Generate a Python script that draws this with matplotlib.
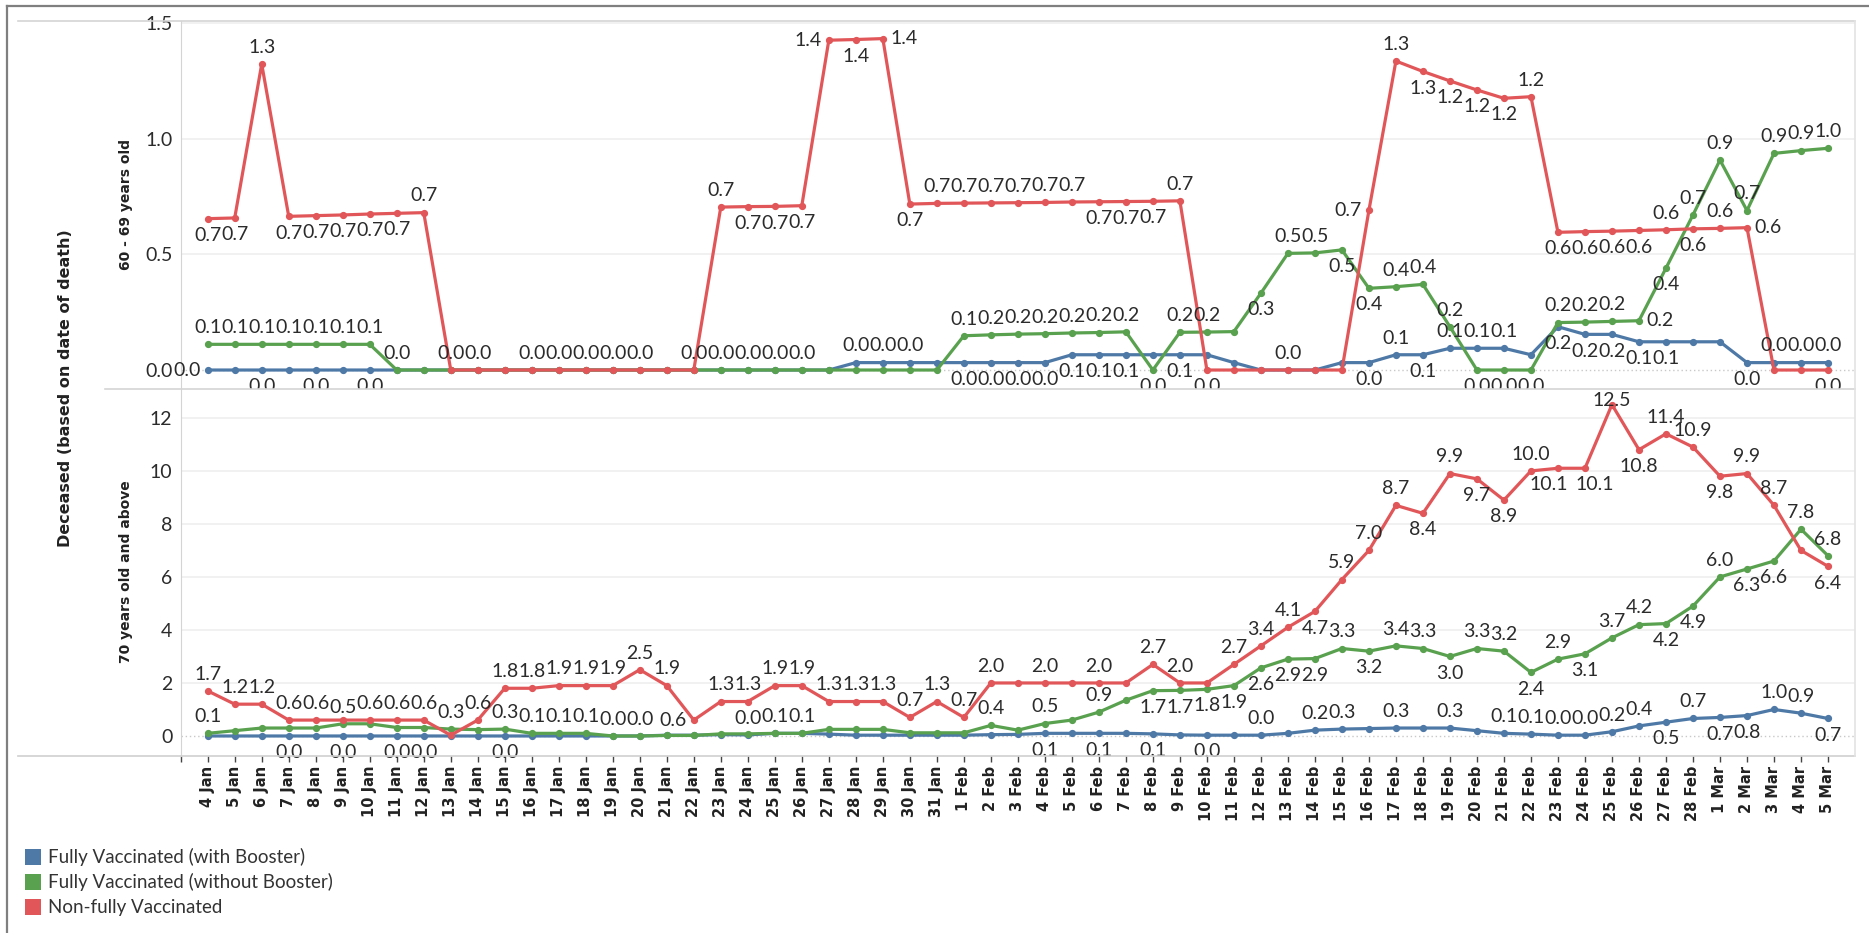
import matplotlib
matplotlib.use("Agg")
import matplotlib.pyplot as plt
from matplotlib.patches import Rectangle
from matplotlib.lines import Line2D

# Dates 4 Jan .. 5 Mar
dates = ([f"{d} Jan" for d in range(4, 32)] + [f"{d} Feb" for d in range(1, 29)]
         + [f"{d} Mar" for d in range(1, 6)])

series_names = ["Fully Vaccinated (with Booster)", "Fully Vaccinated (without Booster)",
                "Non-fully Vaccinated"]
series_colors = ["#4E79A7", "#59A14F", "#E15759"]

# 60 - 69 years old
blue_60 = ([0.0] * 24 + [0.032] * 8 + [0.066] * 6
           + [0.032, 0, 0, 0, 0.032, 0.032, 0.066, 0.066, 0.094, 0.094, 0.094, 0.066,
              0.187, 0.154, 0.154, 0.122, 0.122, 0.122, 0.122, 0.032, 0.032, 0.032, 0.032])
green_60 = ([0.111] * 7 + [0.0] * 21
            + [0.148, 0.152, 0.155, 0.157, 0.160, 0.162, 0.165, 0.0, 0.163, 0.164, 0.166,
               0.332, 0.504, 0.506, 0.519, 0.353, 0.360, 0.370, 0.187, 0.0, 0.0, 0.0,
               0.205, 0.207, 0.210, 0.213, 0.440, 0.670, 0.907, 0.689, 0.936, 0.948, 0.958])
red_60 = ([0.654, 0.657, 1.322, 0.664, 0.667, 0.670, 0.674, 0.677, 0.680] + [0.0] * 10
          + [0.704, 0.706, 0.707, 0.710, 1.425, 1.428, 1.432, 0.717, 0.720, 0.721, 0.722,
             0.723, 0.724, 0.726, 0.727, 0.728, 0.729, 0.731] + [0.0] * 6
          + [0.690, 1.335, 1.290, 1.249, 1.210, 1.174, 1.181, 0.595, 0.598, 0.600, 0.603,
             0.606, 0.610, 0.612, 0.615, 0.0, 0.0, 0.0])

# 70 years old and above
blue_70 = ([0.0] * 17
           + [0.03, 0.03, 0.05, 0.04, 0.1, 0.1, 0.07, 0.03, 0.03, 0.03,
              0.03, 0.03, 0.05, 0.06, 0.1, 0.1, 0.1, 0.1, 0.08, 0.04,
              0.03, 0.03, 0.03, 0.1, 0.22, 0.26, 0.28, 0.3, 0.3, 0.3,
              0.2, 0.1, 0.07, 0.03, 0.03, 0.16, 0.38, 0.52, 0.66, 0.7,
              0.77, 1.0, 0.86, 0.66])
green_70 = [0.1, 0.2, 0.3, 0.3, 0.3, 0.46, 0.46, 0.32, 0.32, 0.26,
            0.24, 0.26, 0.1, 0.1, 0.1, 0.0, 0.0, 0.02, 0.02, 0.08,
            0.08, 0.1, 0.1, 0.25, 0.25, 0.25, 0.12, 0.12, 0.12, 0.4,
            0.22, 0.47, 0.6, 0.9, 1.35, 1.71, 1.72, 1.76, 1.9, 2.57,
            2.9, 2.92, 3.3, 3.2, 3.4, 3.3, 3.0, 3.3, 3.2, 2.4,
            2.9, 3.1, 3.7, 4.2, 4.24, 4.9, 6.0, 6.3, 6.6, 7.8, 6.8]
red_70 = [1.7, 1.2, 1.2, 0.6, 0.6, 0.6, 0.6, 0.6, 0.6, 0.03,
          0.6, 1.8, 1.8, 1.9, 1.9, 1.9, 2.5, 1.9, 0.6, 1.3,
          1.3, 1.9, 1.9, 1.3, 1.3, 1.3, 0.7, 1.3, 0.7, 2.0,
          2.0, 2.0, 2.0, 2.0, 2.0, 2.7, 2.0, 2.0, 2.7, 3.4,
          4.1, 4.7, 5.9, 7.0, 8.7, 8.4, 9.9, 9.7, 8.9, 10.0,
          10.1, 10.1, 12.5, 10.8, 11.4, 10.9, 9.8, 9.9, 8.7, 7.0, 6.4]

# label placement per point: a above, b below, l left, r right, u just over point,
# p / q below shifted left / right, . none
lab_blue_60 = "l.b.b.b.." + "." * 10 + "aaaa.aaa." + "bbbbbbb.b" + "...a..babaaa.bbbbb..baaa"
lab_green_60 = "a" * 8 + "." * 20 + "a" * 7 + "baa.baabbaaabbbaaarbaaaaaa"
lab_red_60 = "bbabbbbba" + "aa.aaaaa.a" + "abbblbrbaaaaaabbba" + "b.....labbbbabbbbabar..b"
lab_blue_70 = "...b.b.bb." + ".b........" + "a........." + ".b.b.b.b.a" + ".aa.a.a.aa" + "aaaababbaab"
lab_green_70 = "a....a...a" + ".aaaaaa..." + ".aa......a" + ".a.a.bbbbb" + "bbabaabaab" + "abaabbabbaa"
lab_red_70 = "aaaaa.aaa." + "aaaaaaaala" + "aaaaaaaaaa" + ".a.a.aa.aa" + "abaaababba" + "pqubaabaa.b"

plt.rcParams['font.family'] = ['Lato', 'DejaVu Sans']
W, H = 1869, 933
fig = plt.figure(figsize=(W / 100, H / 100), dpi=100)

def fx(px):
    return px / W

def fy(py):
    return 1 - py / H

left, right = 180.7, 1855
ax1 = fig.add_axes([fx(left), fy(389), fx(right - left), fy(21) - fy(389)])
ax2 = fig.add_axes([fx(left), fy(756), fx(right - left), fy(389) - fy(756)])

text_col = "#2b2b2b"
offs = {"a": (0, 12), "b": (0, -12), "l": (-15, 0), "r": (15, 0), "u": (0, 3),
        "p": (-7, -12), "q": (7, -12)}

def draw_panel(ax, data, labels):
    for vals, col in zip(data, series_colors):
        ax.plot(range(len(vals)), vals, color=col, lw=2.3, marker="o", ms=4.2,
                solid_joinstyle="round", zorder=3)
    for vals, codes in zip(data, labels):
        for i, (v, c) in enumerate(zip(vals, codes)):
            if c == ".":
                continue
            dx, dy = offs[c]
            ax.annotate(f"{v:.1f}", (i, v), xytext=(dx, dy), textcoords="offset points",
                        ha="center", va="center", fontsize=14, color=text_col, zorder=4,
                        annotation_clip=False)
    ax.set_xlim(-1, 61)
    for s in ["top", "bottom", "right"]:
        ax.spines[s].set_visible(False)
    ax.spines["left"].set_color("#d4d4d4")
    ax.tick_params(axis="y", length=0, pad=6, labelsize=14, labelcolor=text_col)
    ax.set_facecolor("white")

draw_panel(ax1, [blue_60, green_60, red_60], [lab_blue_60, lab_green_60, lab_red_60])
draw_panel(ax2, [blue_70, green_70, red_70], [lab_blue_70, lab_green_70, lab_red_70])

ax1.set_ylim(-0.082, 1.508)
ax1.set_yticks([0, 0.5, 1.0, 1.5])
ax1.set_yticklabels(["0.0", "0.5", "1.0", "1.5"])
ax1.set_xticks([])
ax2.set_ylim(-0.755, 13.09)
ax2.set_yticks(range(0, 13, 2))
ax2.set_yticklabels([str(v) for v in range(0, 13, 2)])

for ax in (ax1, ax2):
    for t in ax.get_yticks():
        if t == 0:
            ax.axhline(0, color="#c8c8c8", lw=1, ls=(0, (1, 2)), zorder=1)
        else:
            ax.axhline(t, color="#efefef", lw=1.2, zorder=0)

ax2.set_xticks(range(-1, len(dates)))
ax2.set_xticklabels([""] + dates, rotation=90, fontsize=10.5, fontweight="bold",
                    family="DejaVu Sans", color="#222222")
ax2.tick_params(axis="x", length=4, width=1, color="#444444", pad=3)

# frame lines
def hline(y, x0, x1, col, lw=1.0):
    fig.add_artist(Line2D([fx(x0), fx(x1)], [fy(y), fy(y)], color=col, lw=lw))

def vline(x, y0, y1, col, lw=1.0):
    fig.add_artist(Line2D([fx(x), fx(x)], [fy(y0), fy(y1)], color=col, lw=lw))

hline(6, 7, W, "#7f7f7f", 1.6)
vline(7, 6, H, "#7f7f7f", 1.6)
hline(21, 18, right, "#d4d4d4", 1.2)
hline(389, 105, right, "#d4d4d4", 1.2)
hline(756, 18, right, "#cfcfcf", 1.2)
vline(right, 21, 756, "#e3e3e3", 1.2)

# axis titles
fig.text(fx(65), fy(388), "Deceased (based on date of death)", rotation=90, ha="center",
         va="center", fontsize=11.5, fontweight="bold", family="DejaVu Sans", color="#222222")
fig.text(fx(126), fy(205), "60 - 69 years old", rotation=90, ha="center", va="center",
         fontsize=10, fontweight="bold", family="DejaVu Sans", color="#222222")
fig.text(fx(126), fy(572), "70 years old and above", rotation=90, ha="center", va="center",
         fontsize=10, fontweight="bold", family="DejaVu Sans", color="#222222")

# legend
for k, (name, col) in enumerate(zip(series_names, series_colors)):
    yc = 857 + 25 * k
    fig.add_artist(Rectangle((fx(25), fy(yc + 8)), fx(16), fy(yc - 8) - fy(yc + 8),
                             facecolor=col, edgecolor="none"))
    fig.text(fx(48), fy(yc), name, ha="left", va="center", fontsize=13.5, color="#333333")

fig.savefig("out.png", dpi=100, facecolor="white")
